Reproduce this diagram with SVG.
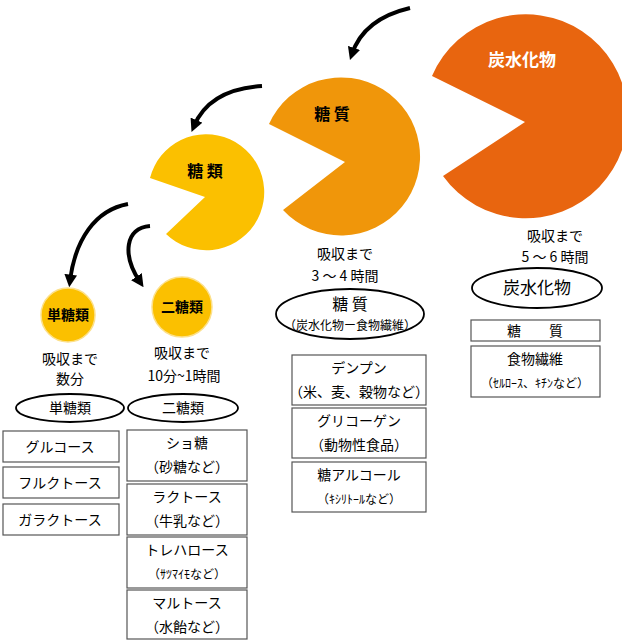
<svg xmlns="http://www.w3.org/2000/svg" width="622" height="640" viewBox="0 0 622 640">
<style>
text{font-family:"Noto Sans CJK JP","Noto Sans",sans-serif;fill:#000;text-anchor:middle}
.t{font-size:14px}
.b{fill:#fff;stroke:#555;stroke-width:1.2}
.e{fill:#fff;stroke:#000;stroke-width:1.8}
.a{fill:none;stroke:#000;stroke-width:4}
.w{font-weight:bold;font-size:16px}
</style>
<defs><marker id="h" viewBox="0 0 10 10" refX="5" refY="5" markerWidth="3.2" markerHeight="3.2" orient="auto"><path d="M0,0L10,5L0,10z" fill="#000"/></marker></defs>
<g id="pac-big"><path d="M525,122 L432,76 A102,102 0 1 1 443,176 Z" fill="#E8650F"/><text x="522" y="66" class="w" style="fill:#fff;font-size:17px">炭水化物</text></g>
<g id="pac-mid"><path d="M345,162 L269,124 A79,79 0 1 1 283,210 Z" fill="#F0960A"/><text x="332" y="120" class="w">糖 質</text></g>
<g id="pac-small"><path d="M205,197 L150,178 A58,58 0 1 1 166,234 Z" fill="#FBC000"/><text x="205" y="177" class="w">糖 類</text></g>
<g id="c1"><circle cx="68" cy="315" r="27" fill="#FBC000" stroke="#FCE08A" stroke-width="1.5"/><text x="68" y="320" class="t" style="font-weight:bold">単糖類</text></g>
<g id="c2"><circle cx="182" cy="307" r="30" fill="#FBC000" stroke="#FCE08A" stroke-width="1.5"/><text x="182" y="312" class="t" style="font-weight:bold">二糖類</text></g>
<g id="connectors">
<path class="a" marker-end="url(#h)" d="M410,8 C380,15 360,30 352,54"/>
<path class="a" marker-end="url(#h)" d="M262,86 C230,88 205,100 194,126"/>
<path class="a" marker-end="url(#h)" d="M128,204 C95,210 75,240 70,281"/>
<path class="a" marker-end="url(#h)" d="M150,226 C125,228 122,255 140,282"/>
</g>
<g id="col1">
<text x="70" y="364" class="t">吸収まで</text><text x="70" y="384" class="t">数分</text>
<ellipse class="e" cx="70" cy="408" rx="54" ry="14"/><text x="70" y="413" class="t">単糖類</text>
<rect class="b" x="3" y="431" width="116" height="31"/><text x="60" y="452" class="t">グルコース</text>
<rect class="b" x="3" y="467" width="116" height="31"/><text x="60" y="488" class="t">フルクトース</text>
<rect class="b" x="3" y="504" width="116" height="31"/><text x="60" y="525" class="t">ガラクトース</text>
</g>
<g id="col2">
<text x="182" y="358" class="t">吸収まで</text><text x="184" y="381" class="t">10分~1時間</text>
<ellipse class="e" cx="183" cy="408" rx="55" ry="14"/><text x="183" y="413" class="t">二糖類</text>
<rect class="b" x="127" y="430" width="120" height="51"/><text x="187" y="448" class="t">ショ糖</text><text x="187" y="472" class="t">（砂糖など）</text>
<rect class="b" x="127" y="484" width="120" height="51"/><text x="187" y="502" class="t">ラクトース</text><text x="187" y="526" class="t">（牛乳など）</text>
<rect class="b" x="127" y="537" width="120" height="51"/><text x="187" y="555" class="t">トレハロース</text><text x="187" y="579" class="t" style="font-size:12px">（ｻﾂﾏｲﾓなど）</text>
<rect class="b" x="127" y="590" width="120" height="49"/><text x="187" y="608" class="t">マルトース</text><text x="187" y="632" class="t">（水飴など）</text>
</g>
<g id="col3">
<text x="345" y="259" class="t">吸収まで</text><text x="345" y="281" class="t">3 ～ 4 時間</text>
<ellipse class="e" cx="350" cy="314" rx="74" ry="25"/><text x="350" y="310" class="t" style="font-size:16px">糖 質</text><text x="350" y="330" style="font-size:12px">（炭水化物ー食物繊維）</text>
<rect class="b" x="292" y="355" width="134" height="50"/><text x="359" y="373" class="t">デンプン</text><text x="359" y="397" class="t">（米、麦、穀物など）</text>
<rect class="b" x="292" y="408" width="134" height="50"/><text x="359" y="426" class="t">グリコーゲン</text><text x="359" y="450" class="t">（動物性食品）</text>
<rect class="b" x="292" y="462" width="134" height="50"/><text x="359" y="480" class="t">糖アルコール</text><text x="359" y="504" class="t" style="font-size:12px">（ｷｼﾘﾄｰﾙなど）</text>
</g>
<g id="col4">
<text x="555" y="241" class="t">吸収まで</text><text x="555" y="262" class="t">5 ～ 6 時間</text>
<ellipse class="e" cx="537" cy="288" rx="65" ry="20"/><text x="537" y="294" style="font-size:17px">炭水化物</text>
<rect class="b" x="471" y="320" width="129" height="21"/><text x="535" y="336" class="t">糖　　質</text>
<rect class="b" x="471" y="346" width="129" height="51"/><text x="535" y="364" class="t">食物繊維</text><text x="535" y="388" class="t" style="font-size:12px">（ｾﾙﾛｰｽ、ｷﾁﾝなど）</text>
</g>
</svg>
